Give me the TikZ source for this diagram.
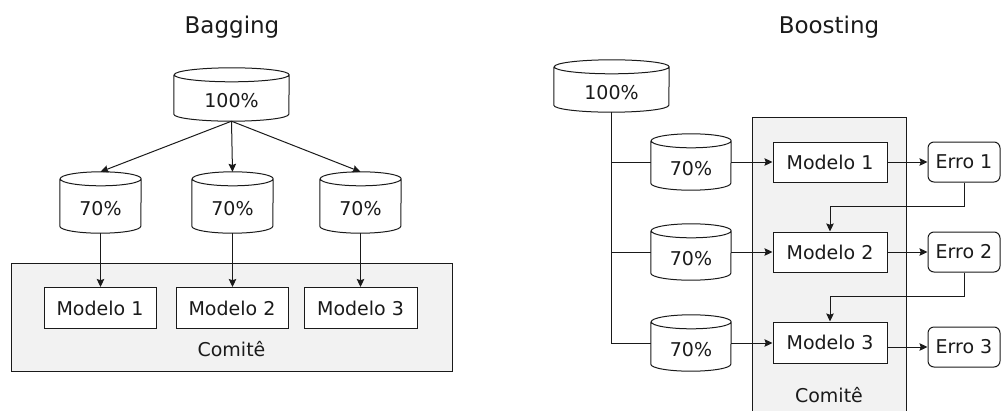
\documentclass[tikz,border=0pt]{standalone}
\usepackage{fontspec}
\setmainfont{DejaVu Sans}
\usetikzlibrary{calc,arrows.meta}
\definecolor{comgray}{HTML}{F2F2F2}
\definecolor{ink}{HTML}{1A1A1A}
\newcommand{\cylry}{7pt}
\newcommand{\cylout}[2]{%
  \draw[line] ($(#1.north west)+(0,-\cylry)$) -- ($(#1.south west)+(0,\cylry)$)
    arc[start angle=180,end angle=360,x radius=#2,y radius=\cylry]
    -- ($(#1.north east)+(0,-\cylry)$)
    arc[start angle=0,end angle=180,x radius=#2,y radius=\cylry]
    arc[start angle=180,end angle=360,x radius=#2,y radius=\cylry];}
\begin{document}
\begin{tikzpicture}[x=1pt,y=1pt,
  line/.style={line width=1pt, draw=ink},
  arr/.style={line, -{Stealth[length=8pt,width=7.5pt,inset=1.2pt]}},
  txt/.style={font=\fontsize{19}{23}\selectfont, text=ink},
  ttl/.style={font=\fontsize{23}{27}\selectfont, text=ink, anchor=base},
  cyl/.style={txt, inner sep=0pt, text height=26pt, text depth=0pt},
  cylbig/.style={cyl, minimum width=115pt},
  cylsmall/.style={cyl, minimum width=81pt, minimum height=61pt},
  cylsmallr/.style={cyl, minimum width=80pt, minimum height=56pt},
  box/.style={txt, draw=ink, line width=1pt, fill=white, inner sep=0pt, minimum height=41pt},
  errbox/.style={box, rounded corners=6pt, minimum width=72pt, minimum height=40pt},
  comite/.style={draw=ink, line width=1pt, fill=comgray, inner sep=0pt},
  lbl/.style={txt, anchor=base}
]
\useasboundingbox (0,0) rectangle (1001,-410);

% ---------------- Bagging ----------------
\node[ttl] (tbag) at (232,-33.3) {Bagging};
\node[comite, minimum width=441pt, minimum height=108pt] (bcom) at (231.5,-317) {};
\node[lbl] (bcomlbl) at (231.5,-356.7) {Comitê};

\node[cylbig, minimum height=53pt] (b100) at (231.5,-94.5) {100\%};
\node[cylsmall] (b70a) at (100.5,-202.5) {70\%};
\node[cylsmall] (b70b) at (232.5,-202.5) {70\%};
\node[cylsmall] (b70c) at (360.5,-202.5) {70\%};
\cylout{b100}{57.5pt}
\cylout{b70a}{40.5pt}
\cylout{b70b}{40.5pt}
\cylout{b70c}{40.5pt}

\node[box, minimum width=112pt] (bm1) at (100,-308) {Modelo 1};
\node[box, minimum width=112pt] (bm2) at (232,-308) {Modelo 2};
\node[box, minimum width=113pt] (bm3) at (360.5,-308) {Modelo 3};

\draw[arr] (b100.south) -- (b70a.north);
\draw[arr] (b100.south) -- (b70b.north);
\draw[arr] (b100.south) -- (b70c.north);
\draw[arr] (b70a.south) -- (b70a.south |- bm1.north);
\draw[arr] (b70b.south) -- (b70b.south |- bm2.north);
\draw[arr] (b70c.south) -- (b70c.south |- bm3.north);

% ---------------- Boosting ----------------
\node[ttl] (tboost) at (829,-33.3) {Boosting};
\node[comite, minimum width=154pt, minimum height=298pt] (rcom) at (829,-266) {};
\node[lbl] (rcomlbl) at (829,-402.5) {Comitê};

\node[cylbig, minimum height=52pt] (r100) at (611.5,-86) {100\%};
\node[cylsmallr] (r70a) at (691,-162) {70\%};
\node[cylsmallr] (r70b) at (691,-252) {70\%};
\node[cylsmallr] (r70c) at (691,-343) {70\%};
\cylout{r100}{57.5pt}
\cylout{r70a}{40pt}
\cylout{r70b}{40pt}
\cylout{r70c}{40pt}

\node[box, minimum width=114pt, minimum height=40pt] (rm1) at (830,-162) {Modelo 1};
\node[box, minimum width=114pt, minimum height=40pt] (rm2) at (830,-252) {Modelo 2};
\node[box, minimum width=114pt] (rm3) at (830,-342.5) {Modelo 3};

\node[errbox] (re1) at (964,-162) {Erro 1};
\node[errbox] (re2) at (964,-252) {Erro 2};
\node[errbox] (re3) at (964,-347) {Erro 3};

\draw[line] (r100.south) |- (r70a.west);
\draw[line] (r100.south) |- (r70b.west);
\draw[line] (r100.south) |- (r70c.west);

\draw[arr] (r70a.east) -- (rm1.west);
\draw[arr] (r70b.east) -- (rm2.west);
\draw[arr] (r70c.east) -- (r70c.east -| rm3.west);

\draw[arr] (rm1.east) -- (re1.west);
\draw[arr] (rm2.east) -- (re2.west);
\draw[arr] (rm3.east |- re3.west) -- (re3.west);

\draw[arr] (re1.south) |- ($(rm2.north)+(0,25pt)$) -- (rm2.north);
\draw[arr] (re2.south) |- ($(rm3.north)+(0,25pt)$) -- (rm3.north);
\end{tikzpicture}
\end{document}
